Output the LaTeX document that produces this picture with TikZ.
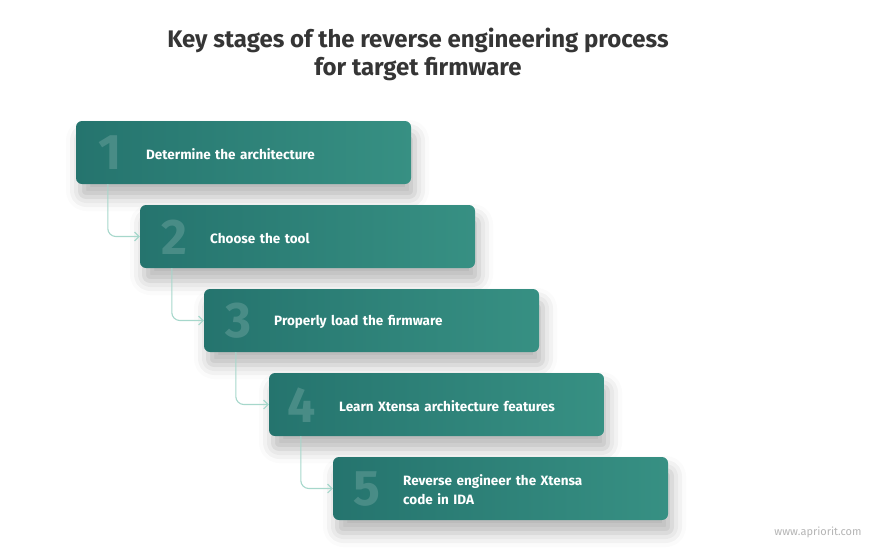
\documentclass[tikz,border=0pt]{standalone}
\usepackage{fontspec}
\setmainfont{Fira Sans}
\usetikzlibrary{arrows.meta,shadows.blur}
\definecolor{tealdark}{HTML}{25746E}
\definecolor{teallight}{HTML}{379083}
\definecolor{linkteal}{HTML}{A6D7CB}
\definecolor{titlegray}{HTML}{353535}
\definecolor{webgray}{HTML}{B4B4B4}
\tikzset{
  stagebox/.style={rounded corners=6pt, minimum width=335pt, minimum height=63pt,
    left color=tealdark, right color=teallight,
    blur shadow={shadow xshift=4pt, shadow yshift=-13pt, shadow blur radius=14pt, shadow opacity=28}},
  stagenum/.style={text=white, text opacity=0.16, font=\fontsize{50}{50}\selectfont\bfseries},
  stagetext/.style={text=white, font=\fontsize{13.5}{19}\selectfont\bfseries, anchor=west, align=left, inner sep=0pt, text width=250pt},
  link/.style={draw=linkteal, line width=1.1pt, rounded corners=8pt, -{Straight Barb[length=4.5pt,width=9pt]}}
}
\begin{document}
\begin{tikzpicture}[x=1pt,y=-1pt]
\useasboundingbox (0,0) rectangle (884,557);
\node[font=\fontsize{24}{28}\selectfont\bfseries, text=titlegray, align=center] (title) at (418,54) {Key stages of the reverse engineering process\\for target firmware};
% stages
\node[stagebox] (b1) at (243.5,152.5) {};
\node[stagebox] (b2) at (307.5,236.5) {};
\node[stagebox] (b3) at (371.5,320.5) {};
\node[stagebox] (b4) at (436.5,404.5) {};
\node[stagebox] (b5) at (500.5,488.5) {};
\node[stagenum] (n1) at (110,153) {1};
\node[stagenum] (n2) at (174,237) {2};
\node[stagenum] (n3) at (238,321) {3};
\node[stagenum] (n4) at (302,405) {4};
\node[stagenum] (n5) at (367,489) {5};
\node[stagetext] (t1) at (146,154) {Determine the architecture};
\node[stagetext] (t2) at (210,238) {Choose the tool};
\node[stagetext] (t3) at (274,322) {Properly load the firmware};
\node[stagetext] (t4) at (339,406) {Learn Xtensa architecture features};
\node[stagetext] (t5) at (403,490) {Reverse engineer the Xtensa\\code in IDA};
% links
\draw[link] ([xshift=32pt]b1.south west) |- (b2.west);
\draw[link] ([xshift=32pt]b2.south west) |- (b3.west);
\draw[link] ([xshift=32pt]b3.south west) |- (b4.west);
\draw[link] ([xshift=32pt]b4.south west) |- (b5.west);
\node[text=webgray, font=\fontsize{11}{11}\selectfont] (web) at (818,532) {www.apriorit.com};
\end{tikzpicture}
\end{document}
